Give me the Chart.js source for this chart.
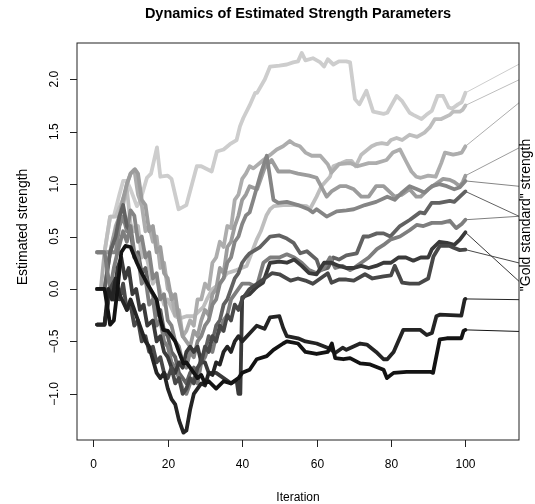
<!DOCTYPE html>
<html>
<head>
<meta charset="utf-8">
<script src="https://cdn.jsdelivr.net/npm/chart.js@4.4.1/dist/chart.umd.min.js"></script>
<style>
  html, body { margin: 0; padding: 0; background: #fff; }
</style>
</head>
<body>
<canvas id="myChart" width="535" height="504"></canvas>
<script>
// estimated strength per iteration, one array of [iteration, estimate] per item
const seriesA = [[1,0.35],[3,0.35],[4.5,0.69],[5.5,0.69],[7,0.9],[8,1.03],[9,1.03],[10,0.95],[11.7,0.79],[12.5,0.83],[14.4,1.06],[15.5,1.1],[17.1,1.35],[18,1.07],[20,1.08],[21,1.05],[22.9,0.76],[24,0.78],[25,0.8],[27.8,1.17],[29,1.17],[31.8,1.12],[33.2,1.31],[35,1.33],[36.7,1.38],[38.5,1.42],[39.4,1.55],[40.3,1.63],[42,1.75],[43.5,1.87],[44,1.87],[46.1,2.0],[47.5,2.12],[50,2.13],[52,2.14],[53.7,2.16],[55,2.17],[56,2.25],[57,2.18],[59,2.2],[61,2.16],[62,2.12],[63,2.19],[64.5,2.14],[66,2.17],[68,2.17],[69,2.16],[70.3,1.81],[71.5,1.76],[73.4,1.89],[75.2,1.69],[78,1.67],[79,1.68],[81.5,1.84],[83,1.79],[85,1.68],[86,1.66],[88.2,1.62],[89.5,1.66],[91,1.7],[92.5,1.84],[94,1.84],[95.5,1.73],[96.5,1.72],[98,1.76],[99,1.78],[100,1.87]];
const seriesB = [[1,0.35],[3,0.35],[4.5,0.69],[6,0.69],[8,0.86],[9,0.95],[10,0.62],[11,0.55],[12,0.6],[13,0.3],[14,0.35],[16,0.05],[17,0.1],[19,-0.15],[20,-0.1],[22,-0.26],[23.3,-0.28],[25,-0.26],[27,-0.26],[29.6,-0.17],[30.5,-0.1],[32,0.0],[34,0.05],[35.9,0.15],[38.5,0.18],[41.2,0.22],[42.5,0.34],[43.9,0.47],[45,0.55],[46.5,0.7],[47.5,0.76],[48.5,0.79],[51,0.8],[54,0.8],[57.3,0.79],[58.2,0.76],[60,0.88],[61.3,0.98],[63.6,1.07],[64.5,1.17],[66.7,1.2],[68,1.22],[69.4,1.22],[70.5,1.17],[72,1.28],[74.8,1.36],[76,1.38],[77.5,1.39],[79,1.38],[80,1.42],[81.5,1.44],[83,1.42],[85,1.47],[87,1.45],[89,1.49],[90.4,1.54],[91.8,1.62],[93.5,1.62],[95.8,1.66],[96.7,1.69],[98.5,1.69],[99.3,1.71],[100,1.75]];
const seriesC = [[1,0],[2,0],[3,0.35],[4.5,0.35],[6,0.6],[7,0.69],[8,0.8],[9,1.0],[10,1.1],[11,1.14],[12,0.9],[13,0.8],[14,0.55],[15,0.6],[16,0.45],[17,0.5],[18,0.2],[19,0.25],[20,0.0],[21,-0.05],[22,-0.25],[23,-0.2],[24,-0.45],[25,-0.4],[26,-0.3],[27,-0.35],[28,-0.1],[29,-0.1],[30,0.05],[31,0.0],[32,0.25],[33,0.3],[34,0.45],[35,0.4],[36,0.6],[37,0.58],[38,0.85],[39,0.9],[40,1.05],[41,1.1],[42,1.17],[43,1.15],[45.7,1.23],[47.9,1.29],[49.3,1.33],[51,1.36],[52.8,1.41],[54,1.38],[55.5,1.36],[57,1.3],[58.7,1.27],[61,1.27],[63,1.19],[64,1.11],[66,1.19],[69,1.2],[71,1.17],[74,1.2],[76,1.2],[78.8,1.23],[80.5,1.3],[82.4,1.33],[84,1.22],[85.5,1.12],[86.8,1.07],[88,1.06],[90,1.08],[92,1.07],[93.5,1.2],[94.5,1.3],[96.7,1.28],[98,1.29],[99,1.3],[100,1.36]];
const seriesD = [[1,0.35],[3,0.35],[4.5,0.35],[5.5,0.5],[7,0.69],[8,0.86],[9,1.0],[10,1.1],[11.2,1.14],[12,1.1],[13,0.85],[14,0.8],[15,0.55],[16,0.6],[17,0.35],[18,0.4],[19,0.15],[20,0.1],[21,-0.1],[22,-0.05],[23,-0.3],[24,-0.45],[25,-0.5],[26,-0.55],[27,-0.4],[28,-0.45],[29,-0.3],[30,-0.2],[31,-0.25],[32,-0.05],[33,0.0],[34,0.2],[35,0.15],[36,0.4],[37,0.45],[38,0.6],[39,0.7],[40,0.85],[41,0.9],[42,0.98],[44,0.95],[45,1.05],[46,1.15],[47.9,1.23],[49.7,1.12],[52.8,1.12],[55,1.1],[58,1.08],[60,1.06],[62.7,0.88],[64,0.93],[66.3,0.98],[68,0.98],[70,0.95],[72,0.88],[74,0.88],[76,0.98],[78,0.98],[81,0.88],[83,0.9],[85,0.95],[86.8,0.88],[88,0.88],[90,0.95],[92,1.0],[94,1.05],[95.8,1.04],[97,1.02],[98.5,0.98],[99.3,1.02],[100,1.08]];
const seriesE = [[1,0],[3,0],[4.5,0.35],[6,0.35],[7,0.6],[8,0.69],[9,0.55],[10,0.75],[11,0.7],[12,0.45],[13,0.5],[14,0.3],[15,0.35],[16,0.1],[17,0.15],[18,-0.1],[19,-0.05],[20,-0.3],[21,-0.35],[22,-0.5],[23,-0.55],[24,-0.7],[25,-0.75],[26,-0.6],[27,-0.65],[28,-0.5],[29,-0.45],[30,-0.35],[31,-0.3],[32,-0.15],[33,-0.1],[34,0.05],[35,0.1],[36,0.25],[37,0.3],[38,0.45],[39,0.5],[40,0.62],[41,0.7],[42,0.73],[43,0.85],[45,1.1],[46.6,1.27],[48.4,0.85],[49.7,0.82],[52,0.83],[55,0.8],[57.8,0.76],[59,0.73],[60,0.76],[62.7,0.69],[65.4,0.74],[68,0.75],[70,0.76],[73,0.8],[76,0.83],[79,0.88],[81,0.85],[83,0.92],[85,0.98],[87,0.95],[89,0.92],[91,0.98],[93,1.0],[95,0.98],[97,0.95],[98.5,0.97],[100,1.03]];
const seriesF = [[1,0],[3,0],[4.5,0.35],[6,0.5],[7,0.69],[8,0.8],[9,0.6],[10,0.55],[11,0.3],[12,0.35],[13,0.15],[14,0.2],[15,0.0],[16,-0.05],[17,-0.25],[18,-0.2],[19,-0.4],[20,-0.45],[21,-0.6],[22,-0.65],[23,-0.8],[24,-0.85],[25,-0.9],[26,-0.8],[27,-0.75],[28,-0.8],[29,-0.65],[30,-0.6],[31,-0.45],[32,-0.5],[33,-0.35],[34,-0.3],[35,-0.15],[36,-0.1],[37,0.0],[38,0.1],[39,0.15],[40,0.25],[41,0.3],[42,0.34],[44.8,0.4],[47.5,0.5],[50,0.51],[52,0.48],[53.8,0.44],[55.6,0.34],[57.4,0.36],[60,0.28],[61,0.18],[63,0.2],[64.5,0.3],[66,0.28],[68,0.32],[70.8,0.34],[72.6,0.5],[74,0.5],[76.2,0.53],[78,0.53],[79.8,0.5],[82.4,0.6],[85.1,0.66],[87.8,0.73],[89,0.72],[90.9,0.82],[93,0.82],[95.8,0.84],[97,0.83],[98.5,0.88],[100,0.93]];
const seriesG = [[1,0.35],[3,0.35],[4.5,0.0],[5.5,0.2],[6.5,0.35],[8,0.55],[9,0.45],[10,0.6],[11,0.35],[12,0.3],[13,0.05],[14,0.1],[15,-0.15],[16,-0.1],[17,-0.35],[18,-0.3],[19,-0.5],[20,-0.55],[21,-0.7],[22,-0.75],[23,-0.85],[24,-0.95],[25,-1.0],[26,-0.9],[27,-0.85],[28,-0.9],[29,-0.7],[30,-0.65],[31,-0.55],[32,-0.6],[33,-0.45],[34,-0.4],[35,-0.3],[36,-0.25],[37,-0.1],[38,-0.05],[39,0.0],[40,0.05],[42,0.05],[43.9,0.02],[45.7,0.25],[47.5,0.3],[50,0.3],[52,0.33],[54,0.3],[56,0.25],[58,0.18],[60,0.15],[62,0.2],[63.6,0.3],[65,0.2],[67,0.22],[69,0.18],[70,0.2],[72,0.25],[74,0.3],[76.2,0.38],[78,0.42],[79.8,0.47],[82.4,0.5],[85,0.56],[86.9,0.61],[88.7,0.6],[91,0.63],[93.6,0.63],[95.8,0.65],[97.5,0.58],[99,0.62],[100,0.66]];
const seriesH = [[1,-0.34],[3,-0.34],[4.5,0.0],[5.5,-0.1],[6.5,0.2],[7.5,0.3],[8.5,0.1],[9.5,0.2],[10.5,-0.05],[11.5,0.0],[12.5,-0.2],[13.5,-0.15],[14.5,-0.35],[16,-0.3],[17,-0.5],[18,-0.45],[19,-0.6],[20,-0.65],[21,-0.75],[22,-0.8],[23,-0.7],[24,-0.75],[25,-0.6],[26,-0.55],[27,-0.6],[28,-0.55],[29,-0.7],[30,-0.7],[31,-0.8],[33,-0.8],[35,-0.85],[37,-0.9],[38.5,-0.87],[39,-1.0],[39.5,-1.0],[40,-0.08],[42,-0.05],[43.9,0.02],[45.6,0.06],[47.5,0.25],[50,0.26],[52,0.25],[54,0.28],[56,0.22],[58,0.15],[60,0.14],[62,0.25],[64,0.25],[66,0.22],[68,0.2],[70,0.2],[72,0.22],[74,0.2],[76,0.22],[78,0.25],[80,0.25],[82,0.3],[84,0.3],[86,0.27],[88,0.3],[90,0.3],[91,0.38],[93,0.45],[95,0.44],[97,0.42],[98.5,0.47],[100,0.54]];
const seriesI = [[1,-0.34],[3,-0.34],[4.5,0.0],[6,0.1],[7,-0.1],[8,0.05],[9,-0.2],[10,-0.15],[11,-0.35],[12,-0.3],[13,-0.5],[14,-0.45],[15,-0.6],[16,-0.55],[17,-0.7],[18,-0.65],[19,-0.8],[20,-0.85],[21,-0.75],[22,-0.9],[23,-0.85],[24,-1.0],[25,-0.95],[26,-0.85],[27,-0.9],[28,-0.75],[29,-0.7],[30,-0.55],[31,-0.6],[32,-0.45],[33,-0.5],[34,-0.35],[35,-0.4],[36,-0.25],[37,-0.3],[38,-0.15],[39,-0.2],[40,-0.1],[42,0.0],[44,0.05],[46,0.1],[48,0.15],[50,0.14],[53,0.08],[55,0.1],[57,0.08],[59,0.05],[61,0.1],[63,0.15],[64,0.06],[66,0.09],[68,0.09],[70,0.08],[73,0.14],[75,0.1],[78,0.12],[80,0.13],[81,0.22],[83,0.06],[85,0.05],[87.5,0.05],[90,0.1],[91.4,0.31],[93.1,0.41],[95.8,0.41],[97,0.39],[98.5,0.37],[100,0.375]];
const seriesJ = [[1,-0.34],[3,-0.34],[4,0.0],[5,-0.1],[6,0.1],[7,-0.05],[9,-0.2],[10,-0.1],[12,-0.3],[14,-0.5],[15,-0.55],[17,-0.8],[18,-0.85],[19,-0.8],[20,-0.95],[21,-1.05],[22,-1.1],[23,-1.25],[24.2,-1.37],[25,-1.35],[26,-1.15],[27,-1.0],[28,-0.95],[29,-0.9],[30,-0.92],[31,-0.8],[32,-0.82],[33,-0.7],[34,-0.72],[35,-0.6],[36,-0.55],[37,-0.6],[38,-0.5],[39,-0.45],[40,-0.5],[42.1,-0.42],[43.9,-0.35],[46,-0.38],[47.5,-0.27],[50,-0.26],[51,-0.37],[52,-0.45],[55,-0.47],[57,-0.5],[60,-0.52],[63.6,-0.57],[65,-0.61],[67,-0.56],[68,-0.58],[71.7,-0.52],[73.5,-0.53],[76,-0.6],[78,-0.67],[79,-0.67],[80.7,-0.6],[83.3,-0.39],[87.8,-0.39],[89.6,-0.44],[91,-0.42],[92.2,-0.26],[93.1,-0.245],[98.9,-0.255],[99.8,-0.1],[100,-0.095]];
const seriesK = [[1,0],[3,0],[4.5,-0.34],[5.5,-0.3],[6.5,0.0],[7.5,0.35],[8.6,0.41],[10,0.4],[11.7,0.25],[13,0.15],[14.5,0.05],[16,-0.04],[17,-0.1],[18,-0.29],[18.8,-0.39],[20,-0.4],[21,-0.45],[22,-0.5],[23,-0.6],[24.2,-0.71],[25,-0.7],[26,-0.75],[27,-0.8],[28,-0.85],[29,-0.82],[30,-0.9],[31,-0.88],[33,-0.95],[35,-0.88],[37,-0.9],[39,-0.85],[40,-0.8],[42,-0.77],[43.9,-0.67],[46.6,-0.64],[48.4,-0.58],[51,-0.52],[52,-0.5],[55,-0.52],[57,-0.6],[60,-0.62],[63,-0.6],[64.1,-0.52],[65,-0.66],[67.2,-0.67],[69,-0.66],[71.7,-0.71],[74.4,-0.72],[78,-0.77],[78.9,-0.85],[80.7,-0.8],[84.2,-0.79],[87.7,-0.79],[90.5,-0.79],[91.3,-0.8],[93.1,-0.48],[95,-0.47],[98.9,-0.47],[99.5,-0.4],[100,-0.39]];

// "gold standard" strength of each item, same order as the series
const goldStandard = [2.143, 1.994, 1.775, 1.345, 0.979, 0.693, 0.693, 0.073, 0.248, -0.102, -0.405];
const seriesColors = ["#cdcdcd", "#bebebe", "#adadad", "#9c9c9c", "#858585", "#626262", "#7e7e7e", "#3a3a3a", "#484848", "#242424", "#131313"];

const xTicks = [0, 20, 40, 60, 80, 100];
const yTicks = [-1.0, -0.5, 0.0, 0.5, 1.0, 1.5, 2.0];
const xRange = [-4.4, 114.4];
const yRange = [-1.44, 2.345];

const allSeries = [seriesA, seriesB, seriesC, seriesD, seriesE, seriesF, seriesG, seriesH, seriesI, seriesJ, seriesK];
const font = '"Liberation Sans", Arial, Helvetica, sans-serif';

const datasets = [];
allSeries.forEach((s, i) => {
  datasets.push({
    data: s.map((p) => ({ x: p[0], y: p[1] })),
    borderColor: seriesColors[i],
    borderWidth: 3.8,
    borderJoinStyle: "round",
    borderCapStyle: "round",
    pointRadius: 0,
    tension: 0,
    fill: false,
    order: 20 - i,
  });
});
// thin link from the last estimate to the gold standard value at the right edge
allSeries.forEach((s, i) => {
  const last = s[s.length - 1];
  datasets.push({
    data: [{ x: last[0], y: last[1] }, { x: xRange[1], y: goldStandard[i] }],
    borderColor: seriesColors[i],
    borderWidth: 1,
    pointRadius: 0,
    tension: 0,
    fill: false,
    order: 0,
  });
});

const axesPlugin = {
  id: "rAxes",
  afterDraw(chart) {
    const ctx = chart.ctx;
    const a = chart.chartArea;
    const xs = chart.scales.x;
    const ys = chart.scales.y;
    ctx.save();
    ctx.strokeStyle = "#222";
    ctx.lineWidth = 1;
    ctx.strokeRect(a.left, a.top, a.right - a.left, a.bottom - a.top);

    ctx.fillStyle = "#000";
    ctx.font = "12px " + font;
    ctx.textAlign = "center";
    ctx.textBaseline = "middle";
    ctx.beginPath();
    xTicks.forEach((v) => {
      const px = Math.round(xs.getPixelForValue(v)) + 0.5;
      ctx.moveTo(px, a.bottom);
      ctx.lineTo(px, a.bottom + 7);
      ctx.fillText(String(v), px, 465);
    });
    yTicks.forEach((v) => {
      const py = Math.round(ys.getPixelForValue(v)) + 0.5;
      ctx.moveTo(a.left - 7, py);
      ctx.lineTo(a.left, py);
    });
    ctx.stroke();

    yTicks.forEach((v) => {
      const py = ys.getPixelForValue(v);
      ctx.save();
      ctx.translate(55, py);
      ctx.rotate(-Math.PI / 2);
      ctx.fillText(v.toFixed(1).replace("-", "\u2212"), 0, 0);
      ctx.restore();
    });

    // titles
    ctx.font = "bold 14.5px " + font;
    ctx.fillText("Dynamics of Estimated Strength Parameters", (a.left + a.right) / 2, 14);

    ctx.font = "12px " + font;
    ctx.fillText("Iteration", (a.left + a.right) / 2, 498);

    ctx.font = "14px " + font;
    ctx.save();
    ctx.translate(23, 227);
    ctx.rotate(-Math.PI / 2);
    ctx.fillText("Estimated strength", 0, 0);
    ctx.restore();

    ctx.save();
    ctx.translate(526, 215);
    ctx.rotate(-Math.PI / 2);
    ctx.fillText("\"Gold standard\" strength", 0, 0);
    ctx.restore();
    ctx.restore();
  },
};

new Chart(document.getElementById("myChart"), {
  type: "line",
  data: { datasets: datasets },
  options: {
    responsive: false,
    animation: false,
    layout: { padding: { left: 77, right: 16, top: 43, bottom: 64 } },
    plugins: { legend: { display: false }, tooltip: { enabled: false }, title: { display: false } },
    scales: {
      x: { type: "linear", display: false, min: xRange[0], max: xRange[1] },
      y: { type: "linear", display: false, min: yRange[0], max: yRange[1] },
    },
  },
  plugins: [axesPlugin],
});
</script>
</body>
</html>
